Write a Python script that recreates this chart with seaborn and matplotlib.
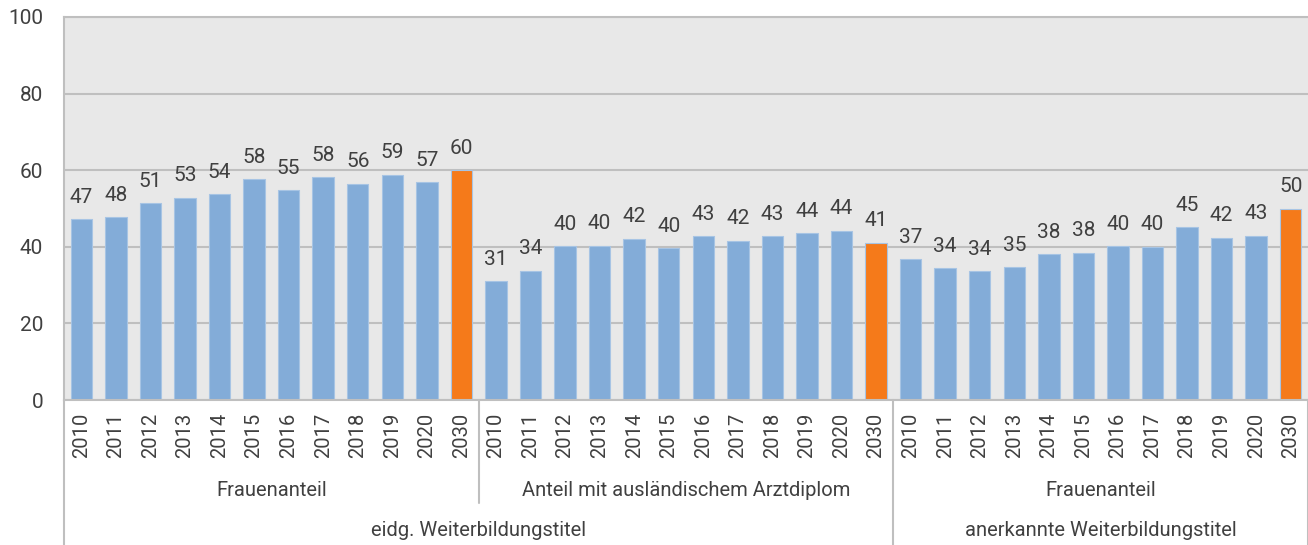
import numpy as np
import pandas as pd
import matplotlib
matplotlib.use('Agg')
import matplotlib.pyplot as plt
import matplotlib.transforms as mtransforms
import seaborn as sns

# values (percent)
years = ['2010', '2011', '2012', '2013', '2014', '2015', '2016', '2017', '2018', '2019', '2020', '2030']
frauen_eidg = [47.2, 47.7, 51.4, 52.8, 53.7, 57.7, 54.7, 58.2, 56.4, 58.8, 56.8, 60.0]
ausland_eidg = [31.0, 33.8, 40.1, 40.3, 42.1, 39.6, 42.7, 41.6, 42.8, 43.6, 44.2, 41.0]
frauen_anerk = [36.8, 34.4, 33.6, 34.7, 38.0, 38.4, 40.2, 40.0, 45.1, 42.4, 42.9, 50.0]

level1_labels = ['Frauenanteil', 'Anteil mit ausländischem Arztdiplom', 'Frauenanteil']
level2_labels = ['eidg. Weiterbildungstitel', 'anerkannte Weiterbildungstitel']
level2_span = [2, 1]  # number of level-1 groups under each level-2 label

BLUE = '#83ACD8'
ORANGE = '#F57A1A'
GRID = '#BFBFBF'
TEXT = '#404040'

series = [frauen_eidg, ausland_eidg, frauen_anerk]
rows = []
for g, vals in enumerate(series):
    for y, v in zip(years, vals):
        rows.append({'key': f'{g}_{y}', 'year': y, 'value': v,
                     'kind': 'Prognose' if y == '2030' else 'Ist'})
df = pd.DataFrame(rows)

sns.set_style('white')
plt.rcParams['font.family'] = ['Roboto', 'DejaVu Sans']
plt.rcParams['font.weight'] = 'normal'

fig = plt.figure(figsize=(13.08, 5.45), dpi=100)
ax = fig.add_axes([64 / 1308, 1 - 400 / 545, 1 - 64 / 1308, (400 - 17) / 545])
ax.set_facecolor('#E8E8E8')

sns.barplot(data=df, x='key', y='value', hue='kind', order=list(df['key']),
            palette={'Ist': BLUE, 'Prognose': ORANGE}, dodge=False, width=0.62,
            legend=False, saturation=1, ax=ax, edgecolor='#A7C4E4', linewidth=0.8)

for cont in ax.containers:
    ax.bar_label(cont, fmt='%.0f', padding=9, fontsize=15, color=TEXT)

ax.set_ylim(0, 100)
ax.set_xlim(-0.5, len(df) - 0.5)
ax.set_yticks(np.arange(0, 101, 20))
ax.yaxis.grid(True, color=GRID, linewidth=1.5)
ax.set_axisbelow(True)
ax.set_xticks(range(len(df)))
ax.set_xticklabels(df['year'], rotation=90)
ax.tick_params(axis='x', length=0, pad=9, labelsize=14.5, labelcolor=TEXT)
ax.tick_params(axis='y', length=0, pad=15, labelsize=15, labelcolor=TEXT)
ax.set_xlabel('')
ax.set_ylabel('')

ax.spines['right'].set_visible(False)
for side in ['left', 'top', 'bottom']:
    ax.spines[side].set_color(GRID)
    ax.spines[side].set_linewidth(1.5)

# hierarchical category labels below the axis
trans = mtransforms.blended_transform_factory(ax.transData, fig.transFigure)
n = len(years)
y_axis = 1 - 400 / 545
for g, lab in enumerate(level1_labels):
    ax.text(g * n + (n - 1) / 2, 1 - 490 / 545, lab, transform=trans,
            ha='center', va='center', fontsize=14.5, color=TEXT)

start = 0
for lab, span in zip(level2_labels, level2_span):
    ax.text(start * n + (span * n - 1) / 2, 1 - 531 / 545, lab, transform=trans,
            ha='center', va='center', fontsize=14.5, color=TEXT)
    start += span

# separators: short between level-1 groups, full at level-2 borders
for g in range(len(series) + 1):
    x = g * n - 0.5
    bottom = 0 if g in (0, 2, 3) else 1 - 503 / 545
    ax.plot([x, x], [y_axis, bottom], transform=trans, color=GRID,
            linewidth=1.5, clip_on=False)

fig.savefig('out.png', dpi=100, facecolor='white')
plt.close(fig)
